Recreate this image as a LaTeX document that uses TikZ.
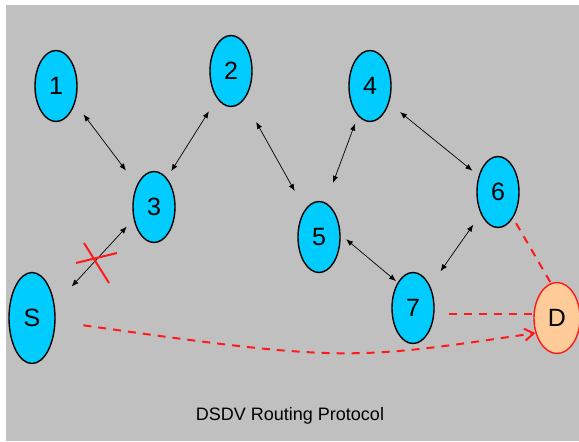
\documentclass[tikz,border=0pt]{standalone}
\usepackage{fontspec}
\setmainfont{Liberation Sans}
\usepackage{xcolor}
\usepackage{tikz}
\usetikzlibrary{arrows.meta,shapes.geometric}
\definecolor{NetCyan}{HTML}{00CCFF}
\definecolor{NetPeach}{HTML}{FFCC99}
\definecolor{NetRed}{HTML}{FF1A1A}
\definecolor{NetGray}{HTML}{C0C0C0}
\tikzset{
  host/.style={ellipse,draw=black,line width=1.4pt,fill=NetCyan,inner sep=0pt,
    minimum width=42pt,minimum height=71pt,font=\fontsize{25}{25}\selectfont},
  source/.style={host,minimum width=46pt,minimum height=91pt},
  sink/.style={host,draw=NetRed,fill=NetPeach,minimum width=46pt},
  link/.style={{Latex[length=7pt,width=5.5pt]}-{Latex[length=7pt,width=5.5pt]},line width=0.7pt,draw=black},
  route/.style={dash pattern=on 8pt off 7pt,line width=2pt,draw=NetRed},
  cut/.style={line width=2pt,draw=NetRed}
}
\begin{document}
\begin{tikzpicture}[x=1pt,y=-1pt]
  \useasboundingbox (0,0) rectangle (579,442);
  \fill[NetGray] (6,5) rectangle (579,441);
  \node[host] (n1) at (56,86) {1};
  \node[host] (n2) at (231,71) {2};
  \node[host] (n3) at (154,207) {3};
  \node[host] (n4) at (370,86) {4};
  \node[host] (n5) at (319,237) {5};
  \node[host] (n6) at (498,192) {6};
  \node[host] (n7) at (413,308) {7};
  \node[source] (src) at (32,318) {S};
  \node[sink] (dst) at (557,318) {D};
  \node[font=\fontsize{18}{18}\selectfont] (title) at (290,416) {DSDV Routing Protocol};
  \draw[link,shorten <=14pt,shorten >=18pt] (n1.-42) -- (n3.128);
  \draw[link,shorten <=15pt,shorten >=8pt] (n2.-117) -- (n3.66);
  \draw[link,shorten <=25pt,shorten >=21pt] (n2.-66) -- (n5.117);
  \draw[link,shorten <=8pt,shorten >=21pt] (n4.-112) -- (n5.79);
  \draw[link,shorten <=14pt,shorten >=8pt] (n4.-42) -- (n6.140);
  \draw[link,shorten <=7pt,shorten >=2pt] (n5.6) -- (n7.121);
  \draw[link,shorten <=13pt,shorten >=18pt] (n6.-128) -- (n7.52);
  \draw[link,shorten <=25pt,shorten >=10pt] (src.30) -- (n3.211);
  % broken link
  \draw[cut] (76,263) -- (117,253);
  \draw[cut] (84,243) -- (109,283);
  % route to D
  \draw[route,shorten <=6pt] (n6.-60) -- (dst.100);
  \draw[route,shorten <=14pt] (n7.east |- dst.170) -- (dst.170);
  \draw[route,-{Straight Barb[length=9pt,width=12pt]},shorten <=28pt] (src.-8) .. controls +(288,41) and +(-184,27) .. (dst.215);
\end{tikzpicture}
\end{document}
